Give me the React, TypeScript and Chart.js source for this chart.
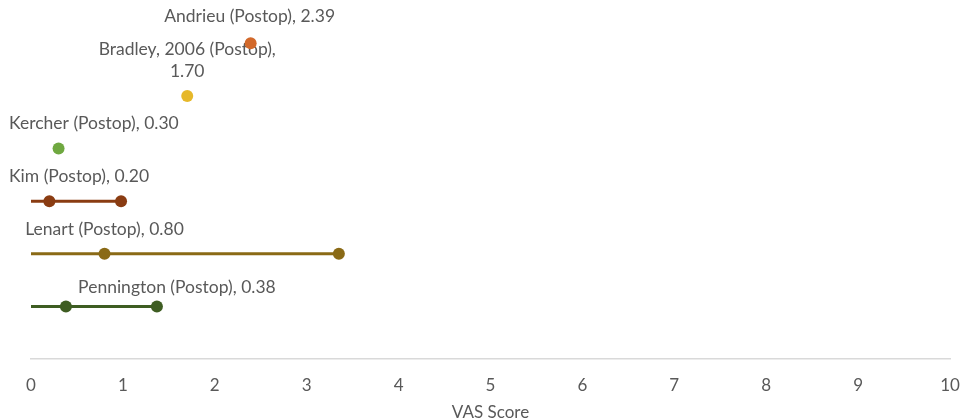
import React, { useEffect, useRef } from "react";
import { Chart, registerables } from "chart.js";

Chart.register(...registerables);

// ---- data ----
const studies = [
  "Andrieu (Postop)",
  "Bradley, 2006 (Postop),",
  "Kercher (Postop)",
  "Kim (Postop)",
  "Lenart (Postop)",
  "Pennington (Postop)",
];
const vasValues = [2.39, 1.7, 0.3, 0.2, 0.8, 0.38];
const lowerValues: (number | null)[] = [null, null, null, 0, 0, 0];
const upperValues: (number | null)[] = [null, null, null, 0.98, 3.35, 1.37];
const rowPositions = [6, 5, 4, 3, 2, 1];
const xTicks = [0, 1, 2, 3, 4, 5, 6, 7, 8, 9, 10];

// ---- style ----
const colors = ["#D2692B", "#E6B82A", "#6FA840", "#8A3C12", "#8A6A16", "#3E5D22"];
const labelWrap = [false, true, false, false, false, false];
const labelDx = [-1, 0, 0, 0, 0, 111];
const labelDy = [-27, -25, -25, -25, -24, -19];
const labelClampLeft = [false, false, true, true, false, false];
const FONT = "Lato, 'Noto Sans', sans-serif";
const TEXT = "#595959";

export default function App() {
  const ref = useRef<HTMLCanvasElement | null>(null);

  useEffect(() => {
    if (!ref.current) return;
    const datasets: any[] = studies.map((name, i) => {
      const y = rowPositions[i];
      const pts: any[] = [];
      const radii: number[] = [];
      if (lowerValues[i] !== null) {
        pts.push({ x: lowerValues[i], y });
        radii.push(0);
      }
      pts.push({ x: vasValues[i], y });
      radii.push(6);
      if (upperValues[i] !== null) {
        pts.push({ x: upperValues[i], y });
        radii.push(6);
      }
      return {
        type: "line",
        label: name,
        data: pts,
        borderColor: colors[i],
        backgroundColor: colors[i],
        pointBackgroundColor: colors[i],
        pointBorderColor: colors[i],
        borderWidth: 3,
        pointRadius: radii,
        pointBorderWidth: 0,
        showLine: true,
        fill: false,
        tension: 0,
      };
    });

    const labelPlugin = {
      id: "studyLabels",
      beforeDatasetsDraw(chart: any) {
        const ctx = chart.ctx;
        const xs = chart.scales.x;
        const ys = chart.scales.y;
        ctx.save();
        ctx.font = `17.5px ${FONT}`;
        ctx.fillStyle = TEXT;
        ctx.textBaseline = "middle";
        ctx.textAlign = "center";
        studies.forEach((name, i) => {
          const v = vasValues[i];
          const px = xs.getPixelForValue(v);
          const py = ys.getPixelForValue(rowPositions[i]);
          const valText = v.toFixed(2);
          const lines = labelWrap[i] ? [name, valText] : [`${name}, ${valText}`];
          const w = Math.max(...lines.map((l) => ctx.measureText(l).width));
          let cx = px + labelDx[i];
          if (labelClampLeft[i]) cx = Math.max(cx, 9 + w / 2);
          const lh = 22;
          lines.forEach((l, k) => {
            const ly = py + labelDy[i] - (lines.length - 1 - k) * lh;
            ctx.fillText(l, cx, ly);
          });
        });
        ctx.restore();
      },
    };

    const chart = new Chart(ref.current, {
      type: "scatter",
      data: { datasets },
      plugins: [labelPlugin],
      options: {
        animation: false,
        responsive: false,
        maintainAspectRatio: false,
        layout: { padding: { left: 31, right: 16, top: 0, bottom: 0 } },
        plugins: {
          legend: { display: false },
          tooltip: { enabled: false },
        },
        scales: {
          x: {
            type: "linear",
            min: xTicks[0],
            max: xTicks[xTicks.length - 1],
            afterBuildTicks: (axis: any) => {
              axis.ticks = xTicks.map((v) => ({ value: v }));
            },
            afterFit: (axis: any) => {
              axis.paddingLeft = 0;
              axis.paddingRight = 0;
              axis.height = 60;
            },
            grid: { display: false, drawTicks: false },
            border: { display: true, color: "#D9D9D9", width: 1.5 },
            ticks: {
              padding: 16,
              color: TEXT,
              font: { family: FONT, size: 17 },
              maxRotation: 0,
            },
            title: {
              display: true,
              text: "VAS Score",
              color: TEXT,
              font: { family: FONT, size: 17 },
              padding: { top: 0, bottom: -4 },
            },
          },
          y: {
            type: "linear",
            display: false,
            min: 0,
            max: 6.71,
          },
        },
      },
    } as any);
    return () => chart.destroy();
  }, []);

  return (
    <div style={{ position: "fixed", left: 0, top: 0, width: 966, height: 419, background: "#fff" }}>
      <canvas ref={ref} width={966} height={419} style={{ width: 966, height: 419 }} />
    </div>
  );
}
